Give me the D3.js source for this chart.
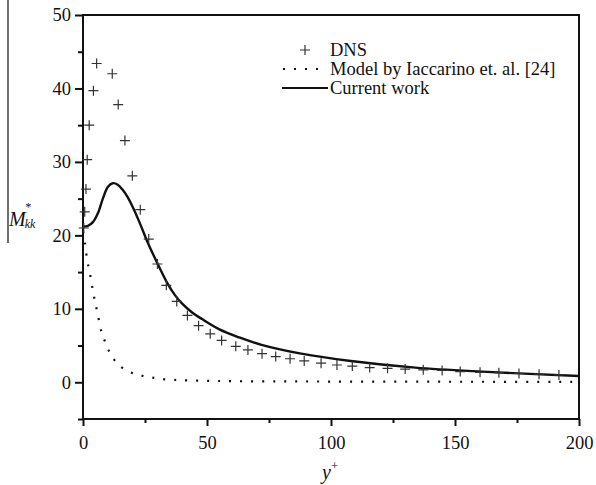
<!DOCTYPE html>
<html>
<head>
<meta charset="utf-8">
<script src="https://cdn.jsdelivr.net/npm/d3@7"></script>
<style>
  body { margin: 0; background: #fff; }
  svg { display: block; }
</style>
</head>
<body>
<svg id="canvas" width="596" height="485"></svg>
<script>
// DNS data (plus markers)
const DNS_X = [0.3, 0.7, 1.2, 1.7, 2.5, 4.2, 5.5, 11.8, 14.2, 16.9, 19.9, 23.1, 26.5, 30.0, 33.6, 37.8, 42.1, 46.6,
  51.3, 55.9, 61.6, 66.5, 72.2, 77.7, 83.5, 89.2, 96.0, 102.4, 108.6, 115.6, 122.8, 129.9, 137.2, 144.8, 152.1,
  160.1, 167.7, 175.8, 183.9, 191.9];
const DNS_Y = [21.0, 23.2, 26.3, 30.3, 35.0, 39.7, 43.4, 42.0, 37.8, 32.9, 28.1, 23.5, 19.5, 16.1, 13.2, 11.0, 9.1, 7.7,
  6.6, 5.7, 4.9, 4.4, 3.9, 3.5, 3.2, 2.9, 2.6, 2.35, 2.2, 2.0, 1.9, 1.8, 1.7, 1.6, 1.45,
  1.35, 1.3, 1.2, 1.1, 1.0];

// Model by Iaccarino et al.
const MODEL_X = [0, 0.8, 1.7, 2.8, 3.8, 4.7, 5.8, 7.5, 9.3, 11.3, 14.9, 19.6, 24.3, 28.6, 33, 38, 42, 50, 60, 80, 100, 130, 160, 200];
const MODEL_Y = [20.5, 18.9, 16.6, 14.8, 12.8, 11.2, 9.5, 6.8, 5.2, 3.7, 2.2, 1.3, 0.86, 0.6, 0.4, 0.3, 0.25, 0.2, 0.15, 0.12, 0.1, 0.08, 0.07, 0.05];

// Current work
const CURRENT_X = [0, 2, 4, 6, 8, 10, 12, 14, 16, 18, 20, 23, 26, 30, 34, 37, 40, 44, 48, 55, 63, 72, 88, 108, 134, 161, 200];
const CURRENT_Y = [21.2, 21.3, 21.8, 23.0, 25.0, 26.6, 27.1, 26.9, 26.2, 25.2, 23.9, 21.6, 19.1, 16.2, 13.5, 11.9, 10.7, 9.5, 8.6, 7.2, 6.1, 5.1, 3.9, 2.9, 2.0, 1.45, 0.86];

const X_TICKS = [0, 50, 100, 150, 200];
const X_MINOR = [25, 75, 125, 175];
const Y_TICKS = [0, 10, 20, 30, 40, 50];
const Y_MINOR = [-5, 5, 15, 25, 35, 45];

const LEGEND = ["DNS", "Model by Iaccarino et. al. [24]", "Current work"];

const SERIF = 'Liberation Serif';

let canvas = d3.select('#canvas')

let x = d3.scaleLinear().domain([0, 200]).range([83, 579])
let y = d3.scaleLinear().domain([-5, 50]).range([419, 15])

let drawAxes = () => {
    // stray rule at the far left of the figure
    canvas.append('line')
        .attr('x1', 8).attr('x2', 8)
        .attr('y1', 0).attr('y2', 243)
        .attr('stroke', '#222').attr('stroke-width', 1.3)

    canvas.append('g')
        .attr('transform', 'translate(0,' + y(-5) + ')')
        .call(d3.axisBottom(x).tickValues(X_TICKS).tickSize(7).tickPadding(10))
    canvas.append('g')
        .attr('transform', 'translate(0,' + y(-5) + ')')
        .call(d3.axisBottom(x).tickValues(X_MINOR).tickSize(4).tickFormat(''))

    canvas.append('g')
        .attr('transform', 'translate(' + x(0) + ',0)')
        .call(d3.axisLeft(y).tickValues(Y_TICKS).tickSize(8).tickPadding(4))
    canvas.append('g')
        .attr('transform', 'translate(' + x(0) + ',0)')
        .call(d3.axisLeft(y).tickValues(Y_MINOR).tickSize(5).tickFormat(''))

    canvas.selectAll('.domain').remove()
    canvas.selectAll('.tick line').attr('stroke', '#111').attr('stroke-width', 2)
    canvas.selectAll('.tick text')
        .style('font-family', SERIF)
        .attr('font-size', 18.5)
        .attr('fill', '#111')

    // frame
    canvas.append('rect')
        .attr('x', x(0)).attr('y', y(50))
        .attr('width', x(200) - x(0))
        .attr('height', y(-5) - y(50))
        .attr('fill', 'none')
        .attr('stroke', '#111')
        .attr('stroke-width', 2)

    // axis titles
    let yl = canvas.append('text')
        .attr('x', 9).attr('y', 226)
        .style('font-family', SERIF)
        .attr('font-style', 'italic').attr('font-size', 20).attr('fill', '#111')
    yl.append('tspan').text('M')
    yl.append('tspan').attr('font-size', 12).attr('dx', -1).attr('dy', -15).text('*')
    yl.append('tspan').attr('font-size', 12).attr('dx', -6).attr('dy', 17).text('kk')

    let xl = canvas.append('text')
        .attr('x', 322).attr('y', 479)
        .style('font-family', SERIF)
        .attr('font-style', 'italic').attr('font-size', 20).attr('fill', '#111')
    xl.append('tspan').text('y')
    xl.append('tspan').attr('font-style', 'normal').attr('font-size', 13).attr('dy', -9).text('+')
}

let drawSeries = () => {
    let line = d3.line()
        .x(d => x(d[0]))
        .y(d => y(d[1]))
        .curve(d3.curveCatmullRom.alpha(0.5))

    canvas.append('path')
        .datum(d3.zip(MODEL_X, MODEL_Y))
        .attr('d', line)
        .attr('fill', 'none')
        .attr('stroke', '#111')
        .attr('stroke-width', 2.2)
        .attr('stroke-dasharray', '2,9')

    canvas.append('path')
        .datum(d3.zip(CURRENT_X, CURRENT_Y))
        .attr('d', line)
        .attr('fill', 'none')
        .attr('stroke', '#111')
        .attr('stroke-width', 2.4)

    canvas.selectAll('.dns')
        .data(d3.zip(DNS_X, DNS_Y))
        .enter()
        .append('path')
        .attr('class', 'dns')
        .attr('transform', d => 'translate(' + x(d[0]) + ',' + y(d[1]) + ')')
        .attr('d', 'M-5,0H5M0,-5V5')
        .attr('stroke', '#333')
        .attr('stroke-width', 1.2)
}

let drawLegend = () => {
    let legend = canvas.append('g')
    let rows = legend.selectAll('g')
        .data(LEGEND)
        .enter()
        .append('g')
        .attr('transform', (d, i) => 'translate(0,' + [50, 69, 88][i] + ')')

    rows.append('text')
        .text(d => d)
        .attr('x', 330)
        .attr('y', 6)
        .style('font-family', SERIF)
        .attr('font-size', 18.5)
        .attr('fill', '#111')

    rows.filter((d, i) => i === 0).append('path')
        .attr('d', 'M300,0H310M305,-5V5')
        .attr('stroke', '#333').attr('stroke-width', 1.2)
    rows.filter((d, i) => i === 1).append('line')
        .attr('x1', 283).attr('x2', 327).attr('y1', 0).attr('y2', 0)
        .attr('stroke', '#111').attr('stroke-width', 2).attr('stroke-dasharray', '2,9')
    rows.filter((d, i) => i === 2).append('line')
        .attr('x1', 282).attr('x2', 328).attr('y1', 0).attr('y2', 0)
        .attr('stroke', '#111').attr('stroke-width', 2.2)
}

drawAxes()
drawSeries()
drawLegend()
</script>
</body>
</html>
